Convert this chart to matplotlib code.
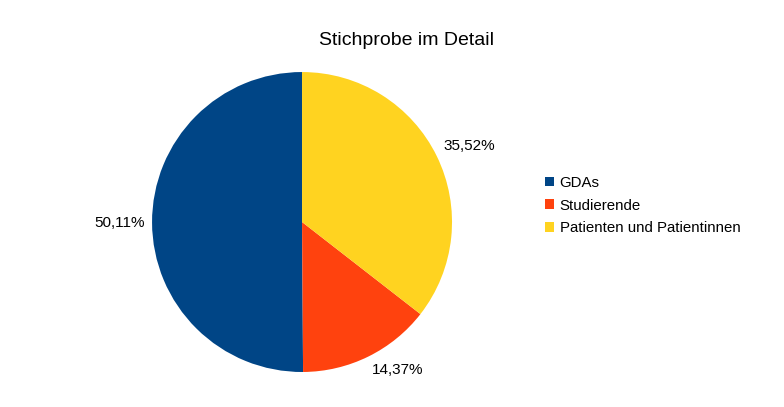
import matplotlib
matplotlib.use("Agg")
import matplotlib.pyplot as plt
from matplotlib.patches import Patch
import numpy as np

plt.rcParams['font.family'] = ['Liberation Sans', 'DejaVu Sans']

# sample composition
categories = ['GDAs', 'Studierende', 'Patienten und Patientinnen']
shares = [50.11, 14.37, 35.52]
colors = ['#004586', '#ff420e', '#ffd320']

fig = plt.figure(figsize=(7.84, 4.07), dpi=100)
ax = fig.add_axes([0.1939, 0.086, 0.3827, 0.737])

wedges, _ = ax.pie(shares, colors=colors, startangle=90, counterclock=True,
                   wedgeprops={'linewidth': 0})
ax.set_xlim(-1, 1)
ax.set_ylim(-1, 1)
ax.set_aspect('equal')

# percentage labels placed just outside each wedge, LibreOffice style
for w, s in zip(wedges, shares):
    mid = np.deg2rad((w.theta1 + w.theta2) / 2)
    c, sn = np.cos(mid), np.sin(mid)
    ha = 'left' if c > 0 else 'right'
    if abs(sn) < 0.3:
        va = 'center'
    else:
        va = 'bottom' if sn > 0 else 'top'
    ax.text(1.05 * c, 1.05 * sn, f'{s:.2f}%'.replace('.', ','),
            ha=ha, va=va, fontsize=11, clip_on=False)

fig.text(0.518, 0.9, 'Stichprobe im Detail', ha='center', va='center', fontsize=14)

handles = [Patch(facecolor=c, edgecolor='none') for c in colors]
fig.legend(handles, categories, loc='center left', bbox_to_anchor=(0.688, 0.495),
           frameon=False, fontsize=10.8, handlelength=0.6, handleheight=0.6,
           handletextpad=0.35, labelspacing=0.58, borderaxespad=0)

fig.savefig('out.png', dpi=100)
